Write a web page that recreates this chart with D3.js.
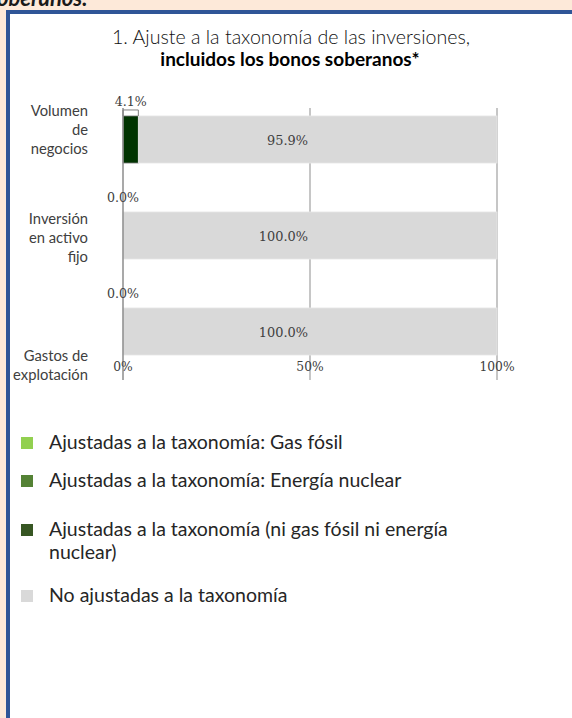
<!DOCTYPE html>
<html>
<head>
<meta charset="utf-8">
<script src="https://cdn.jsdelivr.net/npm/d3@7"></script>
<style>
  html, body { margin: 0; padding: 0; background: #fde9d9; }
  svg { display: block; }
</style>
</head>
<body>
<svg id="chart" width="572" height="718"></svg>
<script>
// ---- data ----
const categories = ["Volumen de negocios", "Inversión en activo fijo", "Gastos de explotación"];
const categoryLines = [["Volumen", "de", "negocios"], ["Inversión", "en activo", "fijo"], ["Gastos de", "explotación"]];
const seriesKeys = ["gas", "nuclear", "otherAligned", "notAligned"];
const seriesNames = [
  "Ajustadas a la taxonomía: Gas fósil",
  "Ajustadas a la taxonomía: Energía nuclear",
  "Ajustadas a la taxonomía (ni gas fósil ni energía nuclear)",
  "No ajustadas a la taxonomía"
];
const gasValues = [0, 0, 0];
const nuclearValues = [0, 0, 0];
const otherAlignedValues = [4.1, 0.0, 0.0];
const notAlignedValues = [95.9, 100.0, 100.0];
const tickValues = [0, 50, 100];
const tickLabels = ["0%", "50%", "100%"];
const titleLines = ["1. Ajuste a la taxonomía de las inversiones,", "incluidos los bonos soberanos*"];

// ---- styles ----
const barColors = { gas: "#92d050", nuclear: "#548235", otherAligned: "#003300", notAligned: "#d9d9d9" };
const legendColors = ["#92d050", "#548235", "#375623", "#d9d9d9"];
const sans = "Lato, 'Open Sans', sans-serif";
const serif = "'DejaVu Serif', 'Liberation Serif', serif";

const rows = categories.map((c, i) => ({
  category: c,
  gas: gasValues[i], nuclear: nuclearValues[i],
  otherAligned: otherAlignedValues[i], notAligned: notAlignedValues[i]
}));

const svg = d3.select("#chart");

// font size that makes a text span a target width
function fitSize(text, family, weight, target) {
  const probe = svg.append("text").attr("font-family", family).attr("font-weight", weight)
    .attr("font-size", 20).text(text);
  const w = probe.node().getComputedTextLength();
  probe.remove();
  return w > 0 ? 20 * target / w : 16;
}

// frame
svg.append("rect").attr("x", 0).attr("y", 0).attr("width", 572).attr("height", 718).attr("fill", "#fde9d9");
svg.append("text").attr("x", -3).attr("y", 6)
  .attr("font-family", sans).attr("font-weight", "bold").attr("font-style", "italic")
  .attr("font-size", 22).attr("fill", "#1a1a1a").text("oberanos.");
svg.append("rect").attr("x", 6).attr("y", 10).attr("width", 580).attr("height", 720).attr("fill", "#2f5597");
svg.append("rect").attr("x", 10).attr("y", 14).attr("width", 580).attr("height", 720).attr("fill", "#ffffff");

// title
svg.append("text").attr("x", 291).attr("y", 44).attr("text-anchor", "middle")
  .attr("font-family", sans).attr("font-weight", 300).attr("font-size", 19.6).attr("fill", "#111")
  .text(titleLines[0]);
svg.append("text").attr("x", 290).attr("y", 66).attr("text-anchor", "middle")
  .attr("font-family", sans).attr("font-weight", "bold").attr("font-size", 19).attr("fill", "#000")
  .text(titleLines[1]);

// scales
const x = d3.scaleLinear().domain([0, 100]).range([123, 497]);
const y = d3.scaleBand().domain(categories).range([91.5, 379.5]).paddingInner(0.51).paddingOuter(0.255);

// gridlines
const g = svg.append("g");
g.selectAll("line.grid").data(tickValues.slice(1)).join("line")
  .attr("x1", d => x(d)).attr("x2", d => x(d))
  .attr("y1", 108).attr("y2", 380)
  .attr("stroke", "#b3b3b3").attr("stroke-width", 1.5);

// stacked bars
const stack = d3.stack().keys(seriesKeys)(rows);
g.selectAll("g.series").data(stack).join("g")
  .attr("fill", d => barColors[d.key])
  .selectAll("rect").data(d => d.map(p => ({ p, key: d.key }))).join("rect")
  .attr("x", d => x(d.p[0]))
  .attr("y", d => y(d.p.data.category))
  .attr("width", d => x(d.p[1]) - x(d.p[0]))
  .attr("height", y.bandwidth())
  .attr("stroke", d => d.key === "notAligned" ? "#e6e6e6" : "#7f7f7f")
  .attr("stroke-width", d => (x(d.p[1]) - x(d.p[0])) > 0 ? 0.8 : 0);

// axis line
g.append("line").attr("x1", x(0)).attr("x2", x(0)).attr("y1", 108).attr("y2", 380)
  .attr("stroke", "#8c8c8c").attr("stroke-width", 1.5);

// callout labels for aligned (above bar)
const aligned = stack.find(s => s.key === "otherAligned");
aligned.forEach(p => {
  const top = y(p.data.category);
  const x0 = x(p[0]), x1 = x(p[1]);
  if (x1 - x0 > 0) {
    g.append("path").attr("d", `M${x0},${top} V${top - 6} H${x1} V${top}`)
      .attr("fill", "none").attr("stroke", "#7f7f7f").attr("stroke-width", 1);
  }
  g.append("text").attr("x", (x0 + x1) / 2).attr("y", top - 10).attr("text-anchor", "middle")
    .attr("font-family", serif).attr("font-size", 12.6).attr("fill", "#404040")
    .text(d3.format(".1f")(p[1] - p[0]) + "%");
});

// labels for not aligned
const notAl = stack.find(s => s.key === "notAligned");
notAl.forEach(p => {
  g.append("text").attr("x", x(50) - 2).attr("y", y(p.data.category) + y.bandwidth() / 2 + 5)
    .attr("text-anchor", "end")
    .attr("font-family", serif).attr("font-size", 12.9).attr("fill", "#404040")
    .text(d3.format(".1f")(p[1] - p[0]) + "%");
});

// tick labels
g.selectAll("text.tick").data(tickValues).join("text")
  .attr("x", d => x(d)).attr("y", 371).attr("text-anchor", "middle")
  .attr("font-family", serif).attr("font-size", 12.3).attr("fill", "#404040")
  .text((d, i) => tickLabels[i]);

// category labels
const catSize = fitSize("explotación", sans, 400, 75);
const labelOffsets = [-24, -12, 29];
categoryLines.forEach((lines, i) => {
  const t = g.append("text").attr("text-anchor", "end")
    .attr("font-family", sans).attr("font-size", catSize).attr("fill", "#404040");
  lines.forEach((ln, j) => {
    t.append("tspan").attr("x", 88)
      .attr("y", y(categories[i]) + y.bandwidth() / 2 + labelOffsets[i] + j * 19)
      .text(ln);
  });
});

// legend
const legSize = fitSize(seriesNames[0], sans, 400, 294);
const legendY = [443, 481, 530, 596];
const legendLines = [[seriesNames[0]], [seriesNames[1]], ["Ajustadas a la taxonomía (ni gas fósil ni energía", "nuclear)"], [seriesNames[3]]];
legendLines.forEach((lines, i) => {
  svg.append("rect").attr("x", 21).attr("y", legendY[i] - 6).attr("width", 12).attr("height", 12)
    .attr("fill", legendColors[i]);
  const t = svg.append("text").attr("font-family", sans).attr("font-size", legSize).attr("fill", "#262626");
  lines.forEach((ln, j) => {
    t.append("tspan").attr("x", 49).attr("y", legendY[i] + 6 + j * 23).text(ln);
  });
});
</script>
</body>
</html>
